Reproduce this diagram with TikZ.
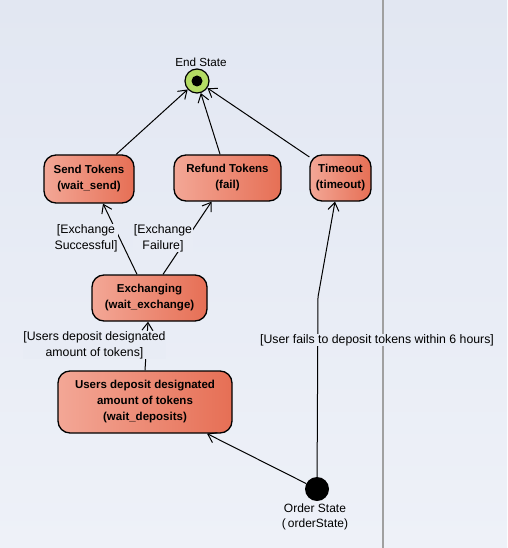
\documentclass[tikz,border=0pt]{standalone}
\usepackage{fontspec}
\setmainfont{Liberation Sans}
\usetikzlibrary{arrows.meta,calc}
\definecolor{bgtop}{HTML}{E2E7F2}
\definecolor{bgbot}{HTML}{EEF1F8}
\definecolor{boxl}{HTML}{F3A796}
\definecolor{boxr}{HTML}{E66F55}
\definecolor{endgreen}{HTML}{B4DC64}
\definecolor{sepgray}{HTML}{A0A0A0}
\begin{document}
\begin{tikzpicture}[x=1pt,y=-1pt,
  statebox/.style={draw=black,line width=1.3pt,rounded corners=12pt,left color=boxl,right color=boxr,
    font=\fontsize{11.5}{16}\selectfont\bfseries,align=center,inner sep=0pt},
  arr/.style={draw=black,line width=1pt,-{Straight Barb[length=8pt,width=11pt,line width=1pt]}},
  lbl/.style={font=\fontsize{12.3}{16}\selectfont,align=center,fill=bgtop!50!bgbot,inner sep=0.5pt}]
\useasboundingbox (0,0) rectangle (507,548);
\shade[top color=bgtop,bottom color=bgbot] (0,0) rectangle (507,548);
\draw[sepgray,line width=2pt] (383,0) -- (383,548);
% states
\node[circle,draw=black,line width=1.2pt,fill=endgreen,minimum size=24pt,inner sep=0pt] (end) at (197,81) {};
\fill[black] (end.center) circle (5.5);
\node[font=\fontsize{11.7}{13}\selectfont] (endlbl) at (201,62) {End State};
\node[statebox,minimum width=90pt,minimum height=48pt] (send) at (89,179) {Send Tokens\\(wait\_send)};
\node[statebox,minimum width=107pt,minimum height=46pt] (refund) at (227.5,178) {Refund Tokens\\(fail)};
\node[statebox,minimum width=61pt,minimum height=46pt] (timeout) at (340.5,178) {Timeout\\(timeout)};
\node[statebox,minimum width=115pt,minimum height=46pt] (exch) at (149.5,298) {Exchanging\\(wait\_exchange)};
\node[statebox,minimum width=174pt,minimum height=62pt] (users) at (145,402) {Users deposit designated\\amount of tokens\\(wait\_deposits)};
\node[circle,fill=black,minimum size=24pt,inner sep=0pt] (order) at (317,489) {};
\node[font=\fontsize{12}{15}\selectfont,align=center] (orderlbl) at (315,517) {Order State\\(\,orderState)};
\coordinate (bend) at (318,297);
% edges
\draw[arr] (send) -- (end);
\draw[arr] (refund) -- (end);
\draw[arr] (timeout) -- (end);
\draw[arr] ([xshift=-12.5pt]exch.north) -- ([xshift=14pt]send.south);
\draw[arr] ([xshift=13.5pt]exch.north) -- ([xshift=-16pt]refund.south);
\draw[arr] (users.north) -- ([xshift=-1.5pt]exch.south);
\draw[arr] (order) -- ([xshift=62pt]users.south);
\draw[arr] (order) -- (bend) -- ([xshift=-5.5pt]timeout.south);
% labels
\node[lbl] (l1) at (86,238) {[Exchange\\Successful]};
\node[lbl] (l2) at (163,238) {[Exchange\\Failure]};
\node[lbl] (l3) at (94.5,345) {[Users deposit designated\\amount of tokens]};
\node[lbl] (l4) at (377,340) {[User fails to deposit tokens within 6 hours]};
\end{tikzpicture}
\end{document}
